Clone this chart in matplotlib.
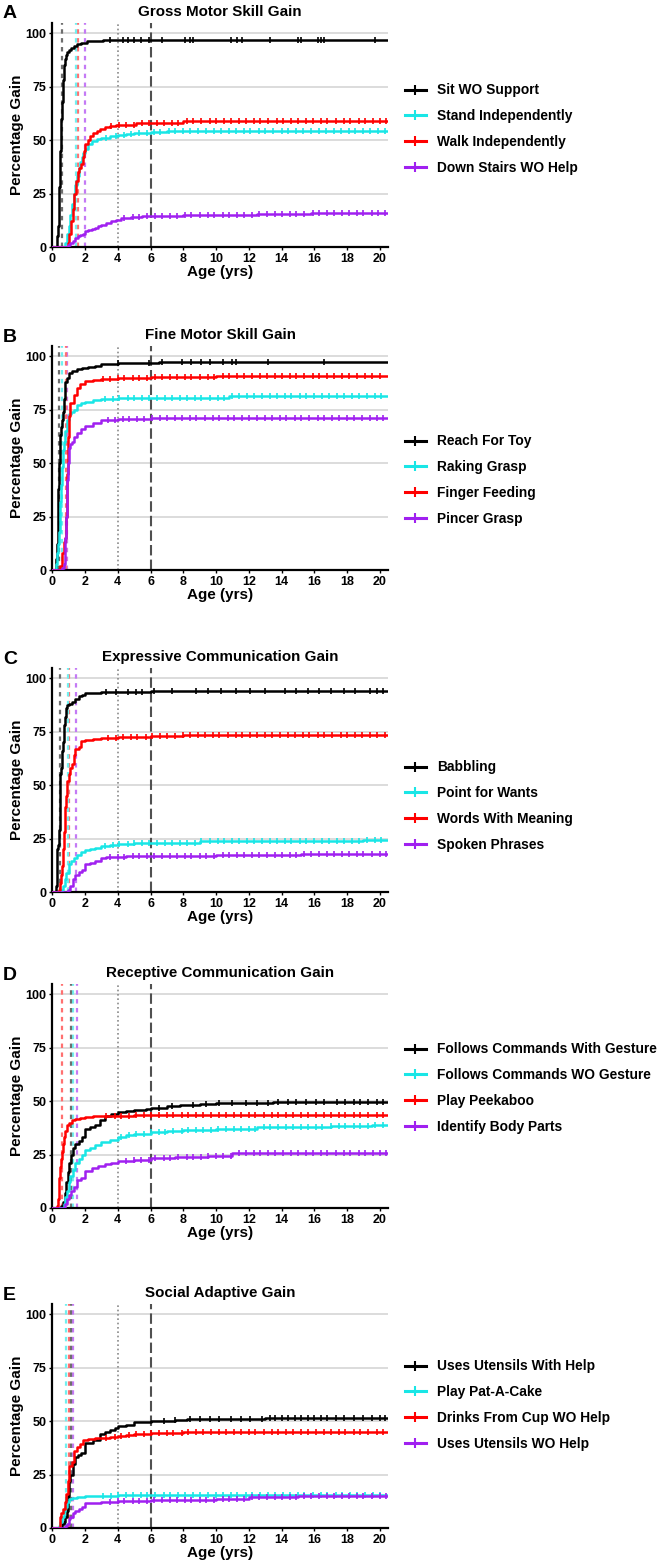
import numpy as np
import matplotlib
matplotlib.use("Agg")
import matplotlib.pyplot as plt
from matplotlib.lines import Line2D

plt.rcParams['font.family'] = ['Liberation Sans', 'DejaVu Sans']
plt.rcParams['font.weight'] = 'bold'

# ---------------- DATA ----------------
colors = ['#000000', '#19E6E6', '#FF0000', '#A020F0']
median_colors = ['#6E6E6E', '#70F0F0', '#FF7070', '#C47AF5']

# Panel A: Gross Motor Skill Gain
A_title = "Gross Motor Skill Gain"
A_labels = ["Sit WO Support", "Stand Independently", "Walk Independently", "Down Stairs WO Help"]
A_sit_t = [0.27, 0.31, 0.35, 0.39, 0.43, 0.47, 0.51, 0.55, 0.59, 0.63, 0.67, 0.72, 0.78, 0.85, 0.92, 1.0, 1.12, 1.3, 1.5, 1.75, 2.1, 2.6, 3.1]
A_sit_p = [2, 5, 10, 15, 28, 45, 50, 60, 68, 72, 78, 85, 88, 90, 91, 92, 93, 94, 95, 95.5, 96.2, 96.5, 96.8]
A_sit_c = [3.5, 4.3, 4.6, 5.0, 5.4, 5.9, 6.7, 8.1, 8.4, 8.6, 10.9, 11.3, 11.6, 13.3, 15.0, 15.2, 16.2, 16.4, 16.6, 19.7]
A_stand_t = [0.8, 0.9, 1.0, 1.1, 1.2, 1.3, 1.4, 1.5, 1.6, 1.7, 1.8, 1.9, 2.0, 2.2, 2.4, 2.7, 3.0, 3.5, 4.0, 4.5, 5.0, 6.0, 7.0]
A_stand_p = [2, 6, 10, 15, 20, 25, 29, 33, 37, 40, 42, 44, 46, 48, 49.5, 50.5, 51, 52, 52.5, 53, 53.3, 53.8, 54.3]
A_stand_c = [3.3, 3.9, 4.4, 4.8, 5.3, 5.8, 6.2, 6.6, 7.1, 7.5, 8.0, 8.4, 8.9, 9.4, 9.9, 10.3, 10.8, 11.2, 11.7, 12.1, 12.6, 13.0, 13.5, 14.0, 14.4, 14.9, 15.3, 15.8, 16.3, 16.7, 17.2, 17.6, 18.1, 18.5, 19.0, 19.4, 19.9, 20.3]
A_walk_t = [0.95, 1.05, 1.15, 1.25, 1.35, 1.45, 1.55, 1.65, 1.75, 1.85, 1.95, 2.0, 2.15, 2.3, 2.5, 2.7, 2.9, 3.2, 3.5, 3.9, 4.3, 5.1, 6.5, 8.0]
A_walk_p = [2, 6, 12, 18, 25, 31, 35, 37, 39, 42, 45, 48, 50, 52, 53.5, 54.5, 55.3, 56, 56.5, 57, 57.3, 57.8, 58.2, 58.8]
A_walk_c = [3.6, 4.1, 4.5, 5.0, 5.5, 5.9, 6.4, 6.8, 7.3, 7.7, 8.2, 8.6, 9.1, 9.6, 10.0, 10.5, 10.9, 11.4, 11.8, 12.3, 12.7, 13.2, 13.7, 14.1, 14.6, 15.0, 15.5, 15.9, 16.4, 16.8, 17.3, 17.8, 18.2, 18.7, 19.1, 19.6, 20.0, 20.4]
A_stairs_t = [0.95, 1.1, 1.25, 1.4, 1.55, 1.7, 1.85, 2.0, 2.2, 2.4, 2.6, 2.8, 3.0, 3.3, 3.6, 3.9, 4.2, 4.8, 5.5, 6.5, 8.0, 10.0, 12.5, 15.8]
A_stairs_p = [1, 2, 3, 4, 5, 5.5, 6, 7.5, 8, 8.5, 9, 10, 10.5, 11.3, 12, 12.8, 13.5, 14, 14.3, 14.6, 15, 15.2, 15.5, 15.8]
A_stairs_c = [4.4, 4.9, 5.3, 5.8, 6.3, 6.7, 7.2, 7.6, 8.1, 8.5, 9.0, 9.5, 9.9, 10.4, 10.8, 11.3, 11.7, 12.2, 12.6, 13.1, 13.6, 14.0, 14.5, 14.9, 15.4, 15.9, 16.3, 16.8, 17.2, 17.7, 18.1, 18.6, 19.0, 19.5, 19.9, 20.3]
A_medians = [0.57, 1.42, 1.54, 2.02]

# Panel B: Fine Motor Skill Gain
B_title = "Fine Motor Skill Gain"
B_labels = ["Reach For Toy", "Raking Grasp", "Finger Feeding", "Pincer Grasp"]
B_reach_t = [0.2, 0.25, 0.3, 0.33, 0.36, 0.4, 0.43, 0.46, 0.5, 0.55, 0.6, 0.65, 0.7, 0.75, 0.8, 0.9, 1.0, 1.2, 1.5, 1.8, 2.2, 2.6, 3.0, 4.0, 6.5]
B_reach_p = [2, 5, 12, 25, 38, 45, 50, 58, 63, 67, 70, 74, 80, 84, 88, 90, 92, 93, 94, 94.5, 95, 95.5, 96.5, 96.8, 97.1]
B_reach_c = [4.0, 5.9, 6.7, 7.9, 8.5, 9.1, 9.6, 10.4, 11.0, 11.2, 13.2, 16.6]
B_rake_t = [0.25, 0.3, 0.35, 0.4, 0.45, 0.5, 0.55, 0.6, 0.65, 0.7, 0.8, 0.9, 1.0, 1.15, 1.3, 1.5, 1.75, 2.0, 2.5, 3.0, 4.0, 10.0, 10.8]
B_rake_p = [3, 8, 12, 18, 25, 32, 40, 48, 56, 60, 65, 70, 73, 74, 75, 77, 78, 78.5, 79.5, 80, 80.3, 80.7, 81.3]
B_rake_c = [3.2, 3.7, 4.1, 4.6, 5.0, 5.5, 5.9, 6.4, 6.9, 7.3, 7.8, 8.2, 8.7, 9.1, 9.6, 10.1, 10.5, 11.0, 11.4, 11.9, 12.3, 12.8, 13.3, 13.7, 14.2, 14.6, 15.1, 15.5, 16.0, 16.5, 16.9, 17.4, 17.8, 18.3, 18.7, 19.2, 19.7, 20.1]
B_feed_t = [0.5, 0.6, 0.7, 0.8, 0.85, 0.9, 0.95, 1.05, 1.1, 1.3, 1.5, 1.7, 2.0, 2.5, 3.0, 4.0, 6.0, 10.0]
B_feed_p = [2, 8, 13, 15, 25, 45, 62, 72, 78, 82, 85, 87, 88.5, 89, 89.5, 90, 90.3, 90.6]
B_feed_c = [3.1, 3.5, 4.0, 4.4, 4.9, 5.3, 5.8, 6.3, 6.7, 7.2, 7.6, 8.1, 8.5, 9.0, 9.5, 9.9, 10.4, 10.8, 11.3, 11.7, 12.2, 12.7, 13.1, 13.6, 14.0, 14.5, 14.9, 15.4, 15.9, 16.3, 16.8, 17.2, 17.7, 18.1, 18.6, 19.1, 19.5, 20.0]
B_pincer_t = [0.6, 0.7, 0.75, 0.8, 0.85, 0.9, 0.95, 1.0, 1.1, 1.2, 1.35, 1.5, 1.75, 2.0, 2.5, 3.0, 4.0, 6.0, 12.0]
B_pincer_p = [1, 3, 8, 15, 25, 42, 50, 57, 59, 60, 62, 64, 66, 67.5, 69, 70.3, 70.6, 71, 71.3]
B_pincer_c = [3.4, 3.8, 4.3, 4.7, 5.2, 5.6, 6.1, 6.6, 7.0, 7.5, 7.9, 8.4, 8.8, 9.3, 9.8, 10.2, 10.7, 11.1, 11.6, 12.0, 12.5, 13.0, 13.4, 13.9, 14.3, 14.8, 15.2, 15.7, 16.2, 16.6, 17.1, 17.5, 18.0, 18.4, 18.9, 19.4, 19.8, 20.2]
B_medians = [0.43, 0.62, 0.85, 0.88]

# Panel C: Expressive Communication Gain
C_title = "Expressive Communication Gain"
C_labels = ["Babbling", "Point for Wants", "Words With Meaning", "Spoken Phrases"]
C_babble_t = [0.2, 0.25, 0.3, 0.35, 0.4, 0.45, 0.5, 0.55, 0.6, 0.65, 0.7, 0.75, 0.8, 0.85, 0.9, 1.0, 1.2, 1.4, 1.6, 1.8, 2.0, 2.5, 3.0, 4.0, 6.0]
C_babble_p = [1, 3, 20, 22, 29, 50, 55, 58, 66, 70, 78, 80, 82, 86, 87.5, 88, 89, 90.5, 91.5, 92, 93, 93.3, 93.6, 93.8, 94]
C_babble_c = [3.3, 3.9, 4.6, 5.1, 5.5, 6.2, 7.3, 8.8, 9.5, 10.3, 11.2, 12.1, 13.0, 14.2, 14.9, 15.6, 16.3, 17.0, 17.8, 18.5, 19.4, 19.8, 20.2]
C_point_t = [0.55, 0.65, 0.75, 0.85, 1.0, 1.15, 1.3, 1.5, 1.75, 2.0, 2.3, 2.6, 3.0, 3.5, 4.0, 5.0, 6.0, 9.0, 14.0, 19.0]
C_point_p = [1, 3, 6, 9, 13, 14.5, 16, 17.5, 18.5, 19.5, 20, 20.8, 21.5, 22, 22.3, 22.8, 23, 23.7, 24, 24.5]
C_point_c = [3.2, 3.7, 4.1, 4.6, 5.0, 5.5, 5.9, 6.4, 6.9, 7.3, 7.8, 8.2, 8.7, 9.1, 9.6, 10.1, 10.5, 11.0, 11.4, 11.9, 12.3, 12.8, 13.3, 13.7, 14.2, 14.6, 15.1, 15.5, 16.0, 16.5, 16.9, 17.4, 17.8, 18.3, 18.7, 19.2, 19.7, 20.1]
C_words_t = [0.43, 0.5, 0.55, 0.6, 0.65, 0.7, 0.75, 0.8, 0.85, 0.9, 1.0, 1.1, 1.2, 1.3, 1.4, 1.6, 1.75, 2.0, 2.5, 3.0, 4.0, 6.0, 8.0]
C_words_p = [1, 4, 8, 12, 20, 28, 35, 40, 45, 52, 55, 58, 60, 64, 67, 68, 70.5, 71, 71.5, 72, 72.7, 73.2, 73.4]
C_words_c = [3.4, 3.9, 4.3, 4.8, 5.2, 5.7, 6.1, 6.6, 7.0, 7.5, 8.0, 8.4, 8.9, 9.3, 9.8, 10.2, 10.7, 11.2, 11.6, 12.1, 12.5, 13.0, 13.4, 13.9, 14.4, 14.8, 15.3, 15.7, 16.2, 16.6, 17.1, 17.6, 18.0, 18.5, 18.9, 19.4, 19.8, 20.3]
C_phrases_t = [0.98, 1.1, 1.25, 1.4, 1.6, 1.8, 2.0, 2.3, 2.6, 3.0, 3.3, 3.7, 4.5, 6.0, 10.0, 15.2]
C_phrases_p = [1, 3, 6, 8, 9.5, 10.5, 13, 13.8, 14.5, 16, 16.3, 16.6, 16.8, 17, 17.3, 18]
C_phrases_c = [3.5, 4.0, 4.4, 4.9, 5.3, 5.8, 6.2, 6.7, 7.2, 7.6, 8.1, 8.5, 9.0, 9.4, 9.9, 10.4, 10.8, 11.3, 11.7, 12.2, 12.6, 13.1, 13.6, 14.0, 14.5, 14.9, 15.4, 15.8, 16.3, 16.8, 17.2, 17.7, 18.1, 18.6, 19.0, 19.5, 20.0, 20.4]
C_medians = [0.47, 0.98, 1.0, 1.45]

# Panel D: Receptive Communication Gain
D_title = "Receptive Communication Gain"
D_labels = ["Follows Commands With Gesture", "Follows Commands WO Gesture", "Play Peekaboo", "Identify Body Parts"]
D_gest_t = [0.55, 0.65, 0.75, 0.85, 0.95, 1.05, 1.15, 1.25, 1.4, 1.6, 1.8, 2.0, 2.3, 2.6, 2.9, 3.2, 3.6, 4.0, 4.5, 5.0, 5.7, 6.0, 7.0, 7.8, 9.0, 10.0, 12.0, 13.5, 17.0]
D_gest_p = [1, 3, 7, 12, 17, 21, 25, 28, 30, 31.5, 33, 37, 38, 39, 41, 43, 44, 45, 45.5, 46, 46.5, 47, 47.5, 48.3, 48.7, 49, 49.3, 49.6, 49.8]
D_gest_c = [6.5, 7.3, 8.6, 9.4, 10.2, 11.0, 11.8, 12.5, 13.2, 13.8, 14.4, 14.9, 15.5, 16.1, 16.6, 17.4, 17.9, 18.4, 18.8, 19.3, 19.8, 20.2]
D_nogest_t = [0.7, 0.8, 0.9, 1.0, 1.1, 1.25, 1.4, 1.6, 1.8, 2.0, 2.3, 2.6, 3.0, 3.5, 4.0, 4.5, 5.0, 6.0, 7.0, 8.0, 10.0, 12.5, 17.0, 19.5]
D_nogest_p = [2, 5, 8, 12, 15, 18, 21, 23, 25, 27, 28, 29.5, 31, 32, 33, 34, 34.5, 35.5, 36, 36.5, 37, 37.8, 38.2, 38.6]
D_nogest_c = [4.2, 4.7, 5.1, 5.6, 6.0, 6.5, 6.9, 7.4, 7.9, 8.3, 8.8, 9.2, 9.7, 10.1, 10.6, 11.1, 11.5, 12.0, 12.4, 12.9, 13.3, 13.8, 14.3, 14.7, 15.2, 15.6, 16.1, 16.5, 17.0, 17.5, 17.9, 18.4, 18.8, 19.3, 19.7, 20.2]
D_peek_t = [0.28, 0.33, 0.38, 0.43, 0.48, 0.53, 0.58, 0.63, 0.7, 0.8, 0.9, 1.0, 1.2, 1.4, 1.7, 2.0, 2.5, 3.0, 5.0]
D_peek_p = [1, 4, 9, 14, 19, 23, 26, 30, 33, 36, 39, 40, 41, 41.5, 42, 42.7, 43, 43.2, 43.3]
D_peek_c = [3.3, 3.8, 4.2, 4.7, 5.1, 5.6, 6.0, 6.5, 7.0, 7.4, 7.9, 8.3, 8.8, 9.2, 9.7, 10.2, 10.6, 11.1, 11.5, 12.0, 12.4, 12.9, 13.4, 13.8, 14.3, 14.7, 15.2, 15.6, 16.1, 16.6, 17.0, 17.5, 17.9, 18.4, 18.8, 19.3, 19.8, 20.2]
D_body_t = [0.8, 0.9, 1.0, 1.15, 1.3, 1.5, 1.75, 2.0, 2.4, 2.8, 3.2, 3.6, 4.0, 5.0, 6.0, 7.5, 9.5, 11.0, 16.0]
D_body_p = [2, 4, 6, 8, 10, 13, 14, 17.5, 18.5, 19.5, 20.5, 21, 22, 22.5, 23.3, 23.8, 24.3, 25.5, 25.7]
D_body_c = [4.5, 5.0, 5.4, 5.9, 6.3, 6.8, 7.2, 7.7, 8.2, 8.6, 9.1, 9.5, 10.0, 10.4, 10.9, 11.4, 11.8, 12.3, 12.7, 13.2, 13.6, 14.1, 14.6, 15.0, 15.5, 15.9, 16.4, 16.8, 17.3, 17.8, 18.2, 18.7, 19.1, 19.6, 20.0, 20.4]
D_medians = [1.12, 1.28, 0.61, 1.53]

# Panel E: Social Adaptive Gain
E_title = "Social Adaptive Gain"
E_labels = ["Uses Utensils With Help", "Play Pat-A-Cake", "Drinks From Cup WO Help", "Uses Utensils WO Help"]
E_withhelp_t = [0.5, 0.6, 0.7, 0.8, 0.9, 0.95, 1.0, 1.1, 1.25, 1.4, 1.55, 1.75, 2.0, 2.5, 2.9, 3.2, 3.5, 3.8, 4.0, 4.5, 5.0, 6.0, 7.5, 8.2, 10.5, 13.0]
E_withhelp_p = [1, 2, 3, 5, 8, 15, 22, 25, 30, 33, 34, 35, 40, 41, 44, 45, 46, 47, 47.8, 48.2, 49.5, 50, 50.3, 50.8, 51, 51.6]
E_withhelp_c = [6.8, 7.5, 8.4, 9.0, 9.6, 10.2, 10.9, 11.5, 12.1, 12.8, 13.3, 13.6, 14.0, 14.4, 14.8, 15.2, 15.6, 16.0, 16.4, 16.8, 17.3, 17.8, 18.4, 19.0, 19.5, 20.0, 20.3]
E_patacake_t = [0.4, 0.5, 0.6, 0.7, 0.8, 0.9, 1.0, 1.2, 1.5, 2.0, 3.0, 4.0]
E_patacake_p = [1, 3, 5, 8, 10, 12, 13.5, 14, 14.5, 15, 15.2, 15.4]
E_patacake_c = [3.1, 3.6, 4.0, 4.5, 4.9, 5.4, 5.8, 6.3, 6.8, 7.2, 7.7, 8.1, 8.6, 9.0, 9.5, 10.0, 10.4, 10.9, 11.3, 11.8, 12.2, 12.7, 13.2, 13.6, 14.1, 14.5, 15.0, 15.4, 15.9, 16.4, 16.8, 17.3, 17.7, 18.2, 18.6, 19.1, 19.6, 20.0]
E_cup_t = [0.45, 0.55, 0.65, 0.75, 0.85, 0.95, 1.05, 1.2, 1.35, 1.5, 1.7, 1.9, 2.2, 2.6, 3.0, 3.5, 4.0, 4.5, 5.0, 6.0, 8.0, 12.0]
E_cup_p = [5, 7, 9, 12, 16, 22, 29, 31, 36, 38, 39.5, 41, 41.5, 42, 42.3, 42.7, 43, 43.5, 44, 44.5, 44.8, 45.1]
E_cup_c = [3.3, 3.8, 4.2, 4.7, 5.1, 5.6, 6.0, 6.5, 7.0, 7.4, 7.9, 8.3, 8.8, 9.2, 9.7, 10.2, 10.6, 11.1, 11.5, 12.0, 12.4, 12.9, 13.4, 13.8, 14.3, 14.7, 15.2, 15.6, 16.1, 16.6, 17.0, 17.5, 17.9, 18.4, 18.8, 19.3, 19.8, 20.2]
E_nohelp_t = [0.8, 0.9, 1.0, 1.1, 1.25, 1.4, 1.6, 1.8, 2.0, 3.0, 4.0, 6.0, 8.0, 10.0, 12.0, 15.0]
E_nohelp_p = [1, 2, 4, 5, 7, 8, 9, 10, 11.5, 12, 12.8, 13, 13.3, 13.5, 14.3, 14.8]
E_nohelp_c = [3.5, 4.0, 4.4, 4.9, 5.3, 5.8, 6.2, 6.7, 7.2, 7.6, 8.1, 8.5, 9.0, 9.4, 9.9, 10.4, 10.8, 11.3, 11.7, 12.2, 12.6, 13.1, 13.6, 14.0, 14.5, 14.9, 15.4, 15.8, 16.3, 16.8, 17.2, 17.7, 18.1, 18.6, 19.0, 19.5, 20.0, 20.4]
E_medians = [1.15, 0.81, 1.04, 1.28]

panels = [
    ("A", A_title, A_labels,
     [(A_sit_t, A_sit_p, A_sit_c), (A_stand_t, A_stand_p, A_stand_c),
      (A_walk_t, A_walk_p, A_walk_c), (A_stairs_t, A_stairs_p, A_stairs_c)], A_medians),
    ("B", B_title, B_labels,
     [(B_reach_t, B_reach_p, B_reach_c), (B_rake_t, B_rake_p, B_rake_c),
      (B_feed_t, B_feed_p, B_feed_c), (B_pincer_t, B_pincer_p, B_pincer_c)], B_medians),
    ("C", C_title, C_labels,
     [(C_babble_t, C_babble_p, C_babble_c), (C_point_t, C_point_p, C_point_c),
      (C_words_t, C_words_p, C_words_c), (C_phrases_t, C_phrases_p, C_phrases_c)], C_medians),
    ("D", D_title, D_labels,
     [(D_gest_t, D_gest_p, D_gest_c), (D_nogest_t, D_nogest_p, D_nogest_c),
      (D_peek_t, D_peek_p, D_peek_c), (D_body_t, D_body_p, D_body_c)], D_medians),
    ("E", E_title, E_labels,
     [(E_withhelp_t, E_withhelp_p, E_withhelp_c), (E_patacake_t, E_patacake_p, E_patacake_c),
      (E_cup_t, E_cup_p, E_cup_c), (E_nohelp_t, E_nohelp_p, E_nohelp_c)], E_medians),
]

# ---------------- LAYOUT ----------------
W, H = 660, 1565
fig = plt.figure(figsize=(W / 100, H / 100), dpi=100)
ax_left, ax_right = 52.3, 388.0
zero_px = [247, 570, 892, 1208, 1528]
legend_center_px = [129, 480, 806, 1088, 1405]
ax_h_px = 224
XMAX, YMAX = 20.5, 104.8

for i, (letter, title, labels, curves, medians) in enumerate(panels):
    b = 1 - zero_px[i] / H
    ax = fig.add_axes([ax_left / W, b, (ax_right - ax_left) / W, ax_h_px / H])
    ax.set_xlim(0, XMAX)
    ax.set_ylim(0, YMAX)
    for yv in [25, 50, 75, 100]:
        ax.axhline(yv, color='#D6D6D6', lw=1.2, zorder=0)

    # reference lines
    ax.axvline(4, color='#8A8A8A', lw=1.2, ls=(0, (1, 1.6)), zorder=1)
    ax.axvline(6, color='#505050', lw=1.5, ls=(0, (5, 2)), zorder=1)
    for k in [3, 2, 1, 0]:
        ax.axvline(medians[k], color=median_colors[k], lw=1.6, ls=(0, (2, 2)), zorder=1)

    handles = []
    for k, (t, p, c) in enumerate(curves):
        tt = np.concatenate([[0.0], np.asarray(t, float), [XMAX]])
        pp = np.concatenate([[0.0], np.asarray(p, float), [p[-1]]])
        ax.step(tt, pp, where='post', color=colors[k], lw=1.8, zorder=3 + k)
        cc = np.asarray(c, float)
        idx = np.searchsorted(tt, cc, side='right') - 1
        ax.plot(cc, pp[idx], ls='none', marker='|', ms=5, mew=1.2,
                color=colors[k], zorder=3 + k)
        handles.append(Line2D([0], [0], color=colors[k], lw=2.2, marker='|',
                              ms=7, mew=1.5))

    ax.spines['top'].set_visible(False)
    ax.spines['right'].set_visible(False)
    ax.spines['left'].set_linewidth(1.6)
    ax.spines['bottom'].set_linewidth(1.6)
    ax.set_xticks(np.arange(0, 21, 2))
    ax.set_yticks([0, 25, 50, 75, 100])
    ax.tick_params(axis='both', length=2.5, width=1, labelsize=9, pad=1.5)
    for lab in ax.get_xticklabels() + ax.get_yticklabels():
        lab.set_fontweight('bold')
    ax.set_xlabel("Age (yrs)", fontsize=11, fontweight='bold', labelpad=0.5)
    ax.set_ylabel("Percentage Gain", fontsize=11, fontweight='bold', labelpad=1.5)
    ax.set_title(title, fontsize=10.9, fontweight='bold', pad=5)

    fig.text(3 / W, 1 - (zero_px[i] - 233) / H, letter, fontsize=14,
             fontweight='bold', ha='left', va='center')

    ax.legend(handles, labels, loc='center left',
              bbox_to_anchor=(405 / W, 1 - legend_center_px[i] / H),
              bbox_transform=fig.transFigure, frameon=False,
              fontsize=9.9, handlelength=1.5, handletextpad=0.8,
              labelspacing=0.85, borderpad=0, borderaxespad=0)

fig.savefig("out.png", dpi=100)
